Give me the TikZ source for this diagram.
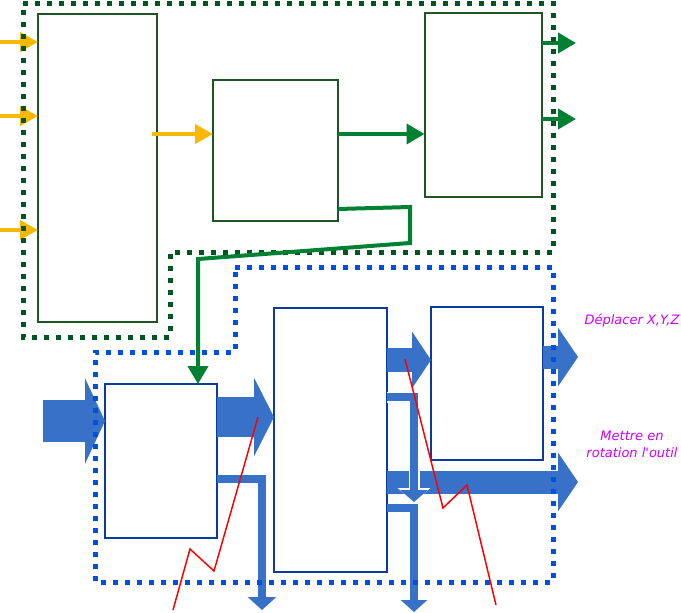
\documentclass[tikz,border=0pt]{standalone}
\usepackage{fontspec}
\newfontfamily\notefont{DejaVu Sans}
\usetikzlibrary{arrows.meta}
\definecolor{gframe}{RGB}{0,85,34}
\definecolor{bframe}{RGB}{0,80,220}
\definecolor{gstroke}{RGB}{30,85,35}
\definecolor{bstroke}{RGB}{10,60,160}
\definecolor{garr}{RGB}{0,128,51}
\definecolor{yarr}{RGB}{250,185,0}
\definecolor{barr}{RGB}{56,114,200}
\definecolor{note}{RGB}{204,0,255}
\begin{document}
\begin{tikzpicture}[x=1pt, y=-1pt,
    gbox/.style={draw=gstroke, line width=2, fill=white, inner sep=0, outer sep=0},
    bbox/.style={draw=bstroke, line width=2, fill=white, inner sep=0, outer sep=0},
    yarrow/.style={draw=yarr, line width=4, -{Triangle[length=18pt, width=19pt]}},
    garrow/.style={draw=garr, line width=4, -{Triangle[length=18pt, width=20pt]}},
    flow/.style={draw=barr, line width=#1},
    frame/.style={line width=5, dash pattern=on 5pt off 7pt},
    notetext/.style={text=note, font=\notefont\itshape\fontsize{13}{17}\selectfont, align=center}
]
    \useasboundingbox (0,0) rectangle (681,613);

    % Boxes
    \node[gbox, minimum width=119, minimum height=308] (ctrl) at (97.5,168) {};
    \node[gbox, minimum width=125, minimum height=141] (proc) at (275.5,150.5) {};
    \node[gbox, minimum width=117, minimum height=184] (out) at (483,105) {};
    \node[bbox, minimum width=112, minimum height=154] (drv) at (161,461) {};
    \node[bbox, minimum width=113, minimum height=264] (mot) at (330.5,440) {};
    \node[bbox, minimum width=112, minimum height=153] (axe) at (487,383.5) {};

    % Free ends
    \coordinate (in1) at (0,42);
    \coordinate (in2) at (0,116);
    \coordinate (in3) at (0,230);
    \coordinate (o1) at (576,43);
    \coordinate (o2) at (576,119);
    \coordinate (feed) at (43,421);
    \coordinate (sink1) at (262,610);
    \coordinate (split) at (414,502);
    \coordinate (sink2) at (414,612);
    \coordinate (xyz) at (578,357);
    \coordinate (rot) at (578,482);

    % Yellow inputs
    \foreach \c in {in1,in2,in3}
        \draw[yarrow] (\c) -- (ctrl.west |- \c);
    \draw[yarrow] ([xshift=-5pt]ctrl.east |- 0,134) -- (proc.west |- 0,134);

    % Green outputs
    \draw[garrow] (proc.east |- 0,134) -- (out.west |- 0,134);
    \draw[garrow] (out.east |- o1) -- (o1);
    \draw[garrow] (out.east |- o2) -- (o2);

    % Blue power arrows
    \draw[flow=42, -{Triangle[length=20pt, width=85pt]}] (feed) -- (drv.west |- feed);
    \draw[flow=40, -{Triangle[length=20pt, width=78pt]}] (drv.east |- 0,417) -- (mot.west |- 0,417);
    \draw[flow=8, -{Triangle[length=13pt, width=28pt]}] (drv.east |- 0,479) -- (262,479) -- (sink1);
    \draw[flow=24, -{Triangle[length=19pt, width=56pt]}] (mot.east |- 0,360) -- (axe.west |- 0,360);
    \draw[flow=23, -{Triangle[length=20pt, width=58pt]}] (mot.east |- rot) -- (rot);
    \draw[flow=23, -{Triangle[length=20pt, width=58pt]}] (axe.east |- xyz) -- (xyz);
    \draw[white, line width=11, -{Triangle[length=14pt, width=32pt]}] (mot.east |- 0,397) -- (414,397) -- (split);
    \draw[flow=8, -{Triangle[length=12pt, width=27pt]}] (mot.east |- 0,397) -- (414,397) -- (split);
    \draw[flow=8, -{Triangle[length=12pt, width=26pt]}] (mot.east |- 0,508) -- (414,508) -- (sink2);

    % Dotted frames
    \draw[frame, gframe] (23,3) -- (553,3) -- (553,252) -- (170,252) -- (170,337) -- (23,337) -- cycle;
    \draw[frame, bframe] (235,267) -- (553,267) -- (553,582) -- (95,582) -- (95,352) -- (235,352) -- cycle;

    % Feedback
    \draw[garrow] (proc.east |- 0,209) -- (410,207) -- (410,243) -- (198,259) -- (198,0 |- drv.north);

    % Break marks
    \draw[red, line width=1.5] (173,610) -- (190,549) -- (214,571) -- (258,417);
    \draw[red, line width=1.5] (405,359) -- (443,508) -- (467,485) -- (496,605);

    % Labels
    \node[notetext] (xyzlabel) at (632,321) {Déplacer X,Y,Z};
    \node[notetext] (rotlabel) at (632,444) {Mettre en\\rotation l'outil};
\end{tikzpicture}
\end{document}
